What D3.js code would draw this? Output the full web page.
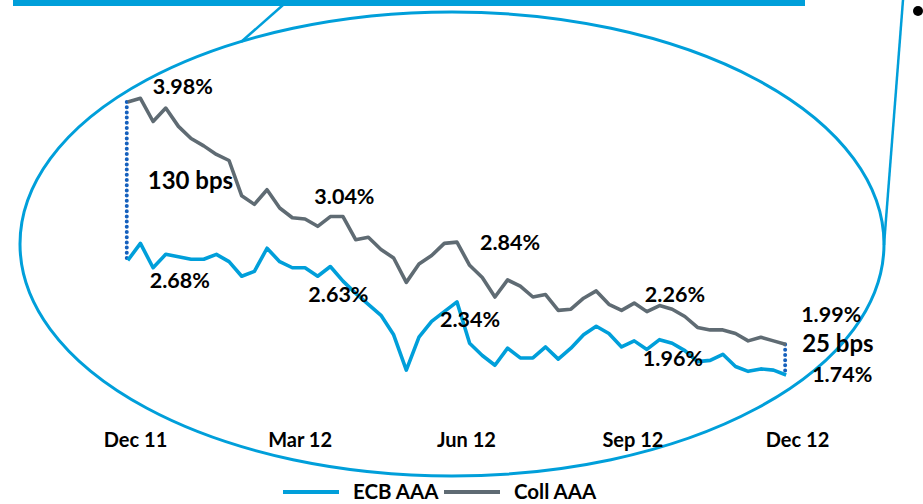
<html>
  <head>
    <style>
      body { margin: 0; background: #fff; }
      text { font-family: Lato, "Open Sans", sans-serif; font-weight: bold; fill: #000; }
      .line { fill: none; stroke-width: 3.6; stroke-linejoin: round; }
    </style>
    <script src="https://cdnjs.cloudflare.com/ajax/libs/d3/7.8.5/d3.min.js"></script>
  </head>
  <body>
    <script>
      // weekly observations, Nov 11 -> Nov 12
      var dates = ["2011-11-27","2011-12-04","2011-12-11","2011-12-18","2011-12-25",
        "2012-01-01","2012-01-08","2012-01-15","2012-01-22","2012-01-29",
        "2012-02-05","2012-02-12","2012-02-19","2012-02-26",
        "2012-03-04","2012-03-11","2012-03-18","2012-03-25",
        "2012-04-01","2012-04-08","2012-04-15","2012-04-22","2012-04-29",
        "2012-05-06","2012-05-13","2012-05-20","2012-05-27",
        "2012-06-03","2012-06-10","2012-06-17","2012-06-24",
        "2012-07-01","2012-07-08","2012-07-15","2012-07-22","2012-07-29",
        "2012-08-05","2012-08-12","2012-08-19","2012-08-26",
        "2012-09-02","2012-09-09","2012-09-16","2012-09-23","2012-09-30",
        "2012-10-07","2012-10-14","2012-10-21","2012-10-28",
        "2012-11-04","2012-11-11","2012-11-18","2012-11-25"];
      var ecbAAA = [2.68,2.82,2.62,2.73,2.71,2.69,2.69,2.73,2.67,2.55,
        2.59,2.78,2.67,2.62,2.62,2.55,2.63,2.51,2.41,2.32,
        2.23,2.07,1.78,2.05,2.18,2.26,2.34,2.00,1.90,1.82,
        1.96,1.88,1.88,1.97,1.87,1.96,2.07,2.14,2.08,1.97,
        2.02,1.95,2.03,2.00,1.94,1.85,1.86,1.91,1.81,1.77,
        1.79,1.78,1.74];
      var collAAA = [3.98,4.01,3.82,3.93,3.78,3.68,3.62,3.55,3.50,3.21,
        3.14,3.26,3.11,3.03,3.02,2.96,3.04,3.04,2.85,2.87,
        2.77,2.70,2.50,2.65,2.72,2.82,2.83,2.64,2.54,2.38,
        2.52,2.47,2.38,2.40,2.27,2.28,2.37,2.43,2.32,2.27,
        2.33,2.26,2.31,2.28,2.22,2.13,2.11,2.11,2.08,2.02,
        2.05,2.02,1.99];
      var tickDates = ["2011-12-01","2012-03-01","2012-06-01","2012-09-01","2012-12-01"];
      var tickLabels = ["Dec 11","Mar 12","Jun 12","Sep 12","Dec 12"];
      var seriesNames = ["ECB AAA","Coll AAA"];
      // annotations: text, series, point index, offset
      var notes = [
        {t:"3.98%", s:"coll", i:0, dx:25, dy:-8},
        {t:"2.68%", s:"ecb", i:0, dx:22, dy:28},
        {t:"3.04%", s:"coll", i:16, dx:-16, dy:-13},
        {t:"2.63%", s:"ecb", i:16, dx:-22, dy:35},
        {t:"2.84%", s:"coll", i:26, dx:23, dy:8},
        {t:"2.34%", s:"ecb", i:26, dx:-17, dy:25},
        {t:"2.26%", s:"coll", i:41, dx:-2, dy:-10},
        {t:"1.96%", s:"ecb", i:41, dx:-4, dy:17},
        {t:"1.99%", s:"coll", i:52, dx:15, dy:-23},
        {t:"1.74%", s:"ecb", i:52, dx:26, dy:7}
      ];
      var spreads = [{t:"130 bps", i:0, dx:20, dy:87, size:24}, {t:"25 bps", i:52, dx:16, dy:7, size:24}];

      var blue = "#009fda", grey = "#5f6b73", dotBlue = "#1560bd";
      var parse = d3.timeParse("%Y-%m-%d");

      var svg = d3.select("body").append("svg")
        .attr("width", 923)
        .attr("height", 504);

      var x = d3.scaleTime()
        .domain([parse("2011-12-01"), parse("2012-12-01")])
        .range([135, 797]);
      var y = d3.scaleLinear().domain([1.74, 3.98]).range([375, 102]);

      // decoration: callout bar, ellipse, connector lines
      svg.append("rect").attr("x", 13).attr("y", 0).attr("width", 792).attr("height", 6).attr("fill", blue);
      svg.append("line").attr("x1", 241).attr("y1", 42).attr("x2", 283).attr("y2", 5)
        .attr("stroke", blue).attr("stroke-width", 2.5);
      svg.append("ellipse").attr("cx", 452).attr("cy", 244).attr("rx", 432).attr("ry", 232)
        .attr("fill", "none").attr("stroke", blue).attr("stroke-width", 3);
      svg.append("line").attr("x1", 903).attr("y1", 0).attr("x2", 884).attr("y2", 245)
        .attr("stroke", blue).attr("stroke-width", 2.5);
      svg.append("circle").attr("cx", 918).attr("cy", 11).attr("r", 5).attr("fill", "#000");

      // x axis labels
      var xAxis = d3.axisBottom(x)
        .tickValues(tickDates.map(parse))
        .tickFormat(function(d, i) { return tickLabels[i]; })
        .tickSize(0);
      var gx = svg.append("g").attr("transform", "translate(0,430)").call(xAxis);
      gx.select(".domain").remove();
      gx.selectAll("text").attr("font-size", 20).attr("font-family", "Lato").attr("font-weight", "bold").attr("fill", "#000");

      var pts = function(arr) { return arr.map(function(v, i) { return {d: parse(dates[i]), v: v}; }); };
      var line = d3.line().x(function(p) { return x(p.d); }).y(function(p) { return y(p.v); });
      var data = {ecb: ecbAAA, coll: collAAA};

      // spread markers
      [0, dates.length - 1].forEach(function(i) {
        svg.append("line")
          .attr("x1", x(parse(dates[i])) - 1).attr("x2", x(parse(dates[i])) - 1)
          .attr("y1", y(collAAA[i])).attr("y2", y(ecbAAA[i]))
          .attr("stroke", dotBlue).attr("stroke-width", 4)
          .attr("stroke-linecap", "round").attr("stroke-dasharray", "0 5.2");
      });

      svg.append("path").attr("class", "line").attr("stroke", grey).attr("d", line(pts(collAAA)));
      svg.append("path").attr("class", "line").attr("stroke", blue).attr("d", line(pts(ecbAAA)));

      notes.forEach(function(n) {
        svg.append("text")
          .attr("x", x(parse(dates[n.i])) + n.dx)
          .attr("y", y(data[n.s][n.i]) + n.dy)
          .attr("font-size", 21.5)
          .text(n.t);
      });
      spreads.forEach(function(n) {
        svg.append("text")
          .attr("x", x(parse(dates[n.i])) + n.dx)
          .attr("y", y(collAAA[n.i]) + n.dy)
          .attr("font-size", n.size)
          .text(n.t);
      });

      // legend
      var legend = svg.append("g").attr("transform", "translate(283,492)");
      [blue, grey].forEach(function(c, k) {
        var g = legend.append("g").attr("transform", "translate(" + (k * 161) + ",0)");
        g.append("line").attr("x1", 0).attr("x2", 56).attr("stroke", c).attr("stroke-width", 4);
        g.append("text").attr("x", 70).attr("y", 7).attr("font-size", 20.5).text(seriesNames[k]);
      });
    </script>
  </body>
</html>
